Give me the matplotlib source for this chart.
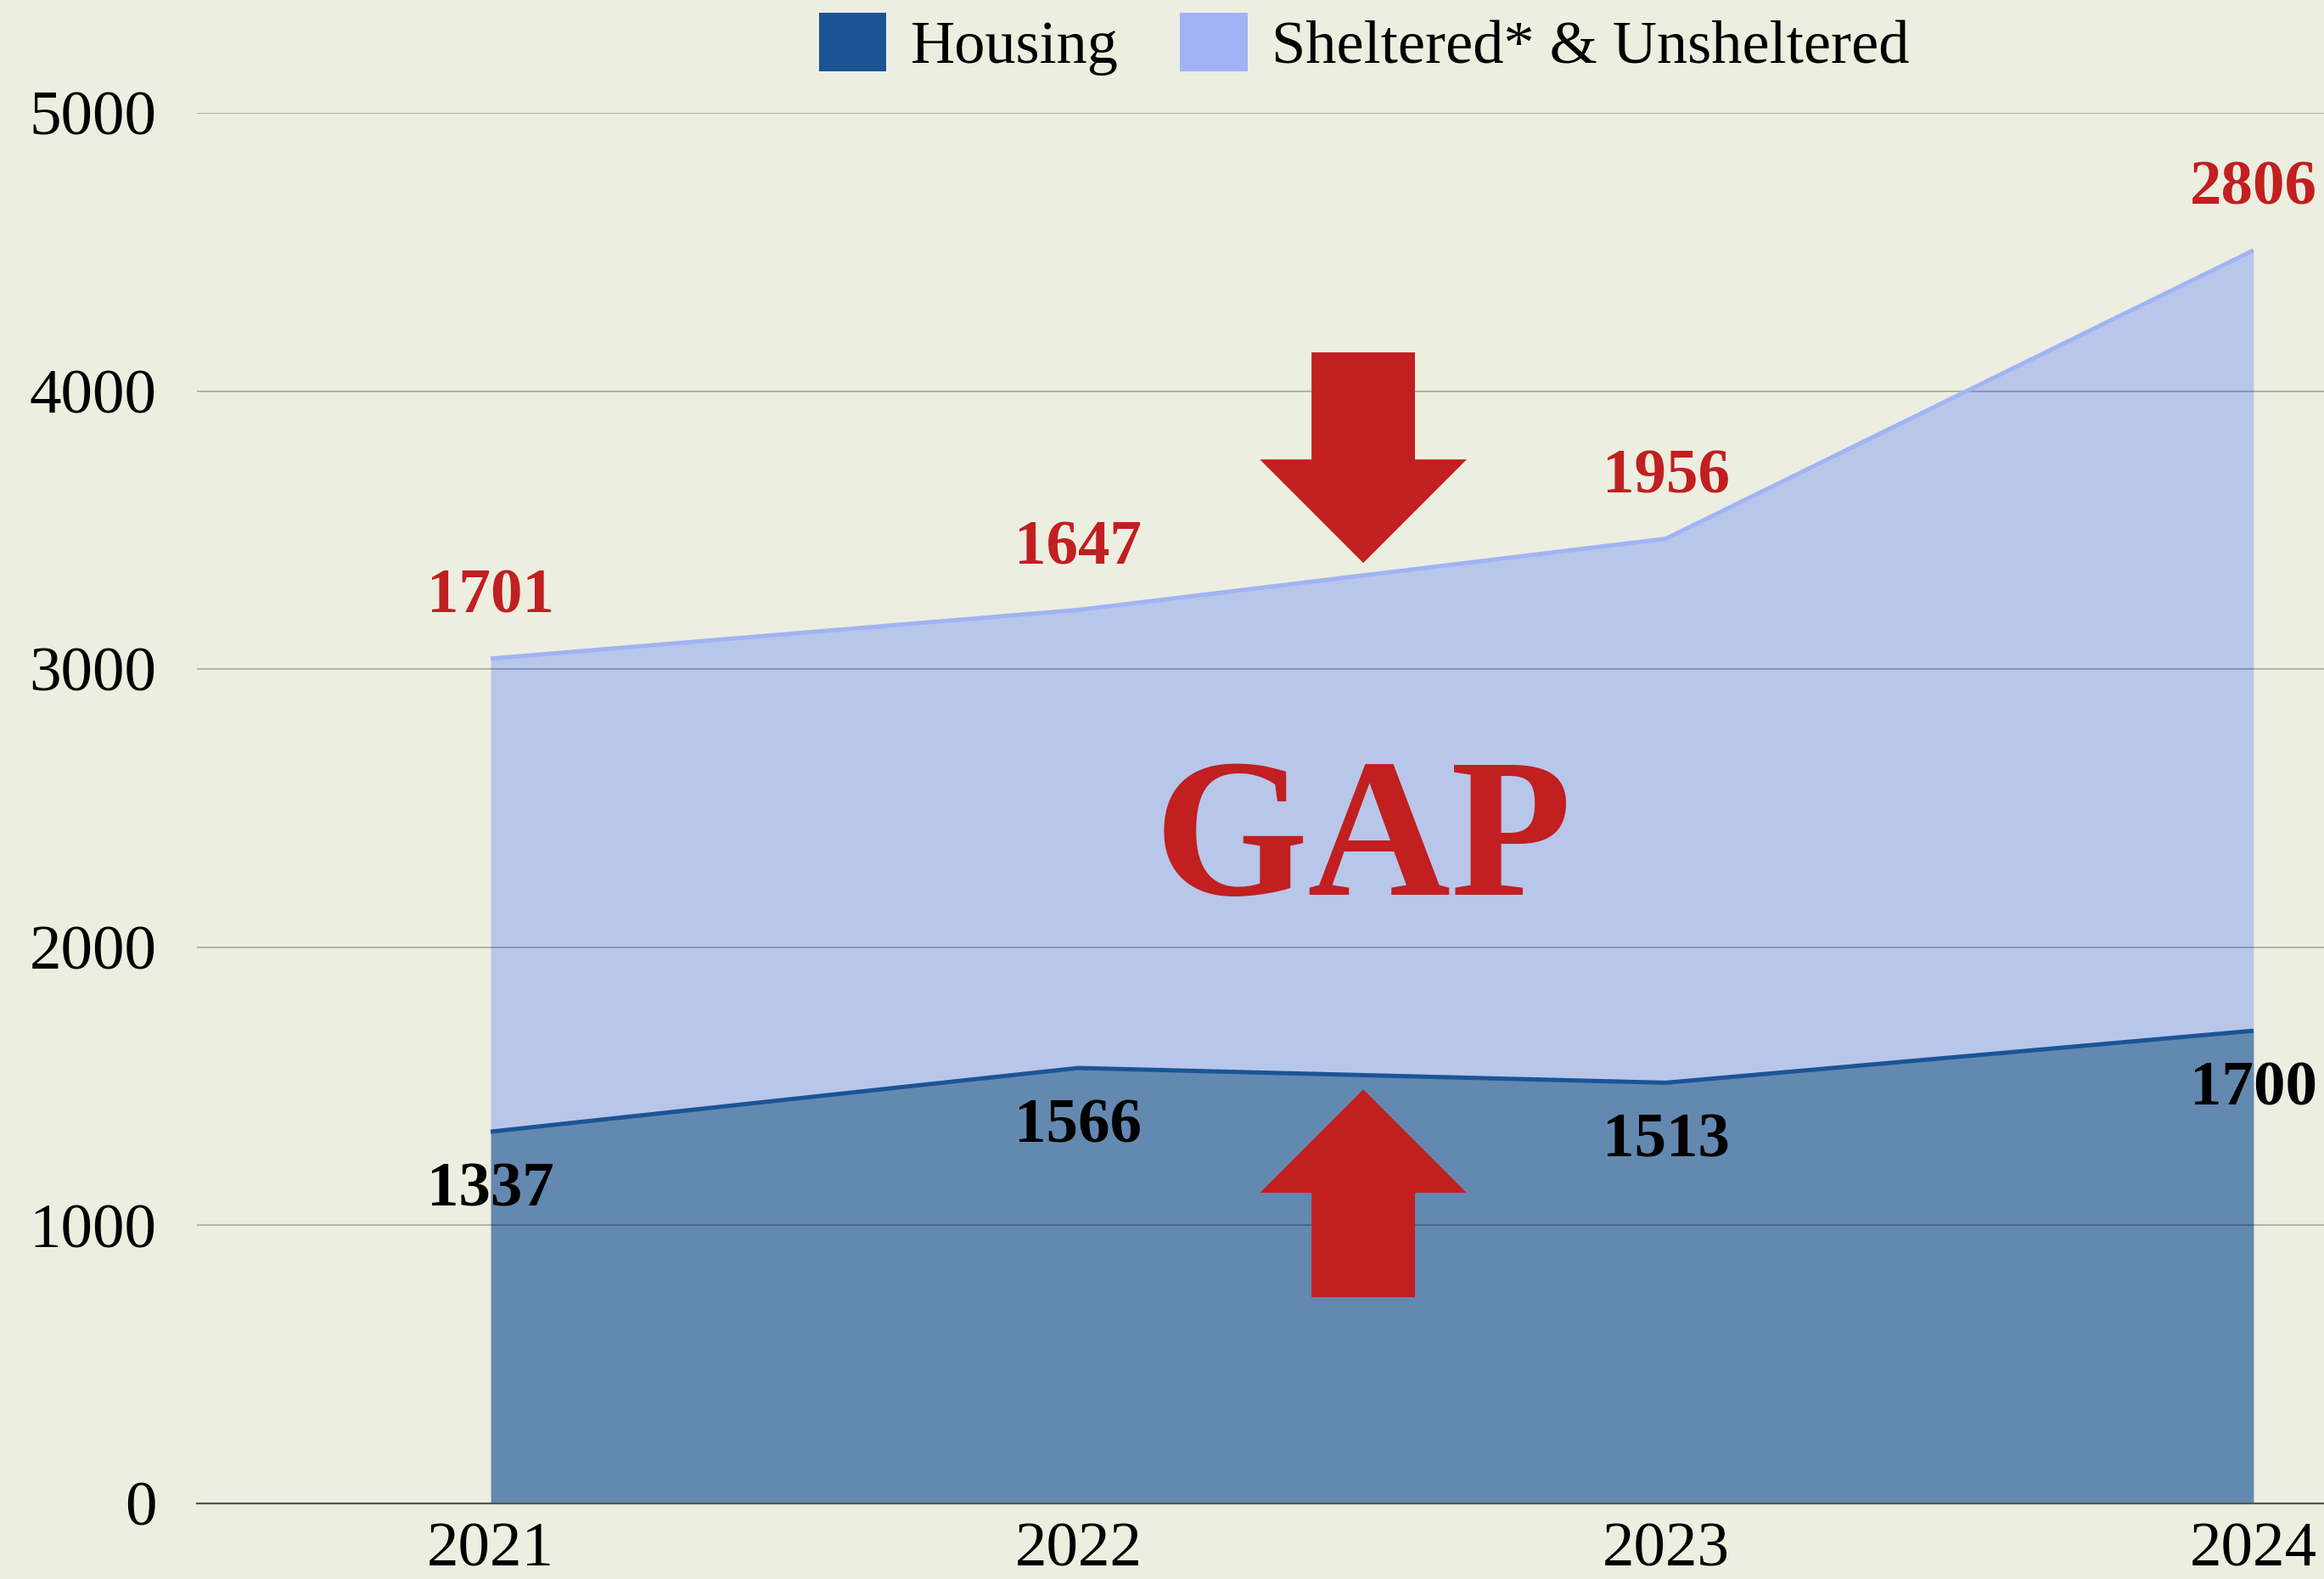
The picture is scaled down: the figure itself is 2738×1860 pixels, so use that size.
import matplotlib
matplotlib.use("Agg")
import matplotlib.pyplot as plt
from matplotlib.patches import FancyArrow, Patch
import numpy as np

years = ['2021', '2022', '2023', '2024']
housing = [1337, 1566, 1513, 1700]
sheltered = [1701, 1647, 1956, 2806]
y_ticks = [0, 1000, 2000, 3000, 4000, 5000]

BG = '#ECEEE0'
DARK = '#1B5496'
DARK_FILL = '#6389B0'
LIGHT = '#A0B4F5'
LIGHT_FILL = '#B8C6EA'
RED = '#C11F20'

plt.rcParams['font.family'] = ['Liberation Serif', 'DejaVu Serif']

fig = plt.figure(figsize=(13.69, 9.30), dpi=200, facecolor=BG)
ax = fig.add_axes([0.0847, 0.0478, 0.9153, 0.8807])
ax.set_facecolor(BG)

x = np.arange(len(years))
top = np.array(housing) + np.array(sheltered)

ax.fill_between(x, 0, housing, color=DARK_FILL, lw=0, zorder=1)
ax.fill_between(x, housing, top, color=LIGHT_FILL, lw=0, zorder=1)
ax.plot(x, housing, color=DARK, lw=1.8, zorder=3, solid_capstyle='butt')
ax.plot(x, top, color=LIGHT, lw=1.8, zorder=3, solid_capstyle='butt')

# grid drawn over the fills so it shows through
for t in y_ticks[1:]:
    ax.axhline(t, color='black', alpha=0.25, lw=0.7, zorder=2)

ax.set_xlim(-0.5, 3.12)
ax.set_ylim(0, 5000)
ax.set_xticks(x)
ax.set_xticklabels(years, fontsize=27)
ax.set_yticks(y_ticks)
ax.set_yticklabels([str(t) for t in y_ticks], fontsize=27)
ax.tick_params(axis='both', length=0)
ax.tick_params(axis='y', pad=17)
ax.tick_params(axis='x', pad=8)
for s in ['top', 'right', 'left']:
    ax.spines[s].set_visible(False)
ax.spines['bottom'].set_color('#555555')
ax.spines['bottom'].set_linewidth(0.8)
ax.spines['bottom'].set_zorder(4)

# value labels
for xi, t, v in zip(x, top, sheltered):
    ax.annotate(str(v), (xi, t), xytext=(0, 26), textcoords='offset points',
                ha='center', va='center', fontsize=27, fontweight='bold',
                color=RED, zorder=5, annotation_clip=False)
for xi, h in zip(x, housing):
    ax.annotate(str(h), (xi, h), xytext=(0, -25), textcoords='offset points',
                ha='center', va='center', fontsize=27, fontweight='bold',
                color='black', zorder=5)

# GAP text and arrows
gx = 1.485
ax.text(gx, 2360, 'GAP', ha='center', va='center', fontsize=84,
        fontweight='bold', color=RED, zorder=5)
ax.add_patch(FancyArrow(gx, 4139, 0, 3382 - 4139, width=0.176,
                        head_width=0.352, head_length=372,
                        length_includes_head=True, color=RED, lw=0, zorder=5))
ax.add_patch(FancyArrow(gx, 742, 0, 1489 - 742, width=0.176,
                        head_width=0.352, head_length=372,
                        length_includes_head=True, color=RED, lw=0, zorder=5))

handles = [Patch(facecolor=DARK, label='Housing'),
           Patch(facecolor=LIGHT, label='Sheltered* & Unsheltered')]
fig.legend(handles=handles, loc='center', bbox_to_anchor=(0.587, 0.972),
           ncol=2, frameon=False, fontsize=26, handlelength=1.1,
           handleheight=1.1, handletextpad=0.4, columnspacing=1.0)

fig.savefig('out.png', dpi=200, facecolor=BG)
